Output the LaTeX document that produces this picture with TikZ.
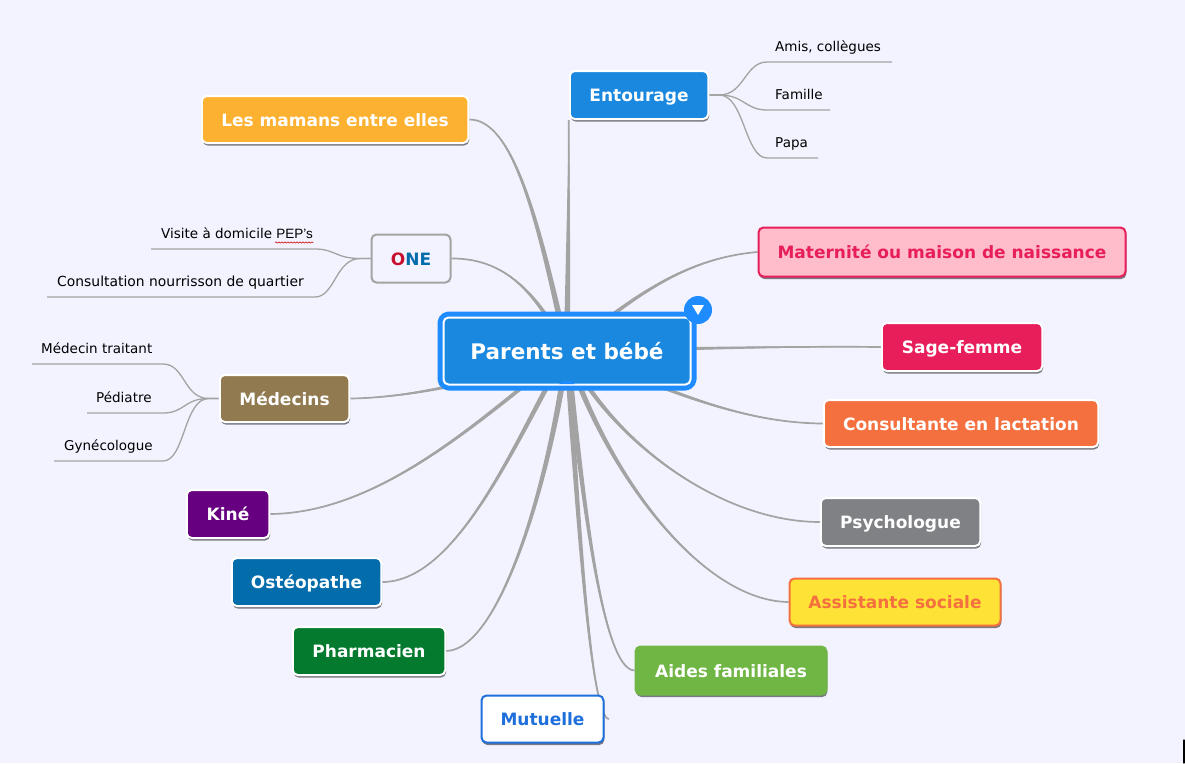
\documentclass[tikz,border=0pt]{standalone}
\usepackage{fontspec}
\setmainfont{DejaVu Sans}
\newfontfamily\pepfont{Liberation Sans}
\usetikzlibrary{calc,shadows,backgrounds,decorations.pathmorphing}
\definecolor{MapPage}{HTML}{F3F3FF}
\definecolor{MapLink}{HTML}{A3A3A3}
\definecolor{MapRing}{HTML}{1E8CFF}
\definecolor{MapBlue}{HTML}{1B88DF}
\definecolor{MapAmber}{HTML}{FDB130}
\definecolor{MapPink}{HTML}{FFBCCB}
\definecolor{MapRose}{HTML}{E81E5A}
\definecolor{MapCoral}{HTML}{F5703F}
\definecolor{MapSlate}{HTML}{808184}
\definecolor{MapYellow}{HTML}{FFE236}
\definecolor{MapLeaf}{HTML}{70B645}
\definecolor{MapRoyal}{HTML}{1E6FDB}
\definecolor{MapForest}{HTML}{047A2E}
\definecolor{MapOcean}{HTML}{036CAA}
\definecolor{MapPurple}{HTML}{660080}
\definecolor{MapBrown}{HTML}{917A50}
\definecolor{MapCrimson}{HTML}{C8102E}
\tikzset{
  flatbox/.style={draw=white,line width=2pt,rounded corners=5pt,text=white,
    font=\fontsize{17}{20}\selectfont\bfseries,text height=17pt,text depth=3.6pt,inner sep=0pt},
  topicbox/.style={flatbox,drop shadow={shadow xshift=0.8pt,shadow yshift=-2.5pt,fill=black,opacity=0.5}},
  twiglabel/.style={font=\fontsize{13.5}{16}\selectfont,text=black,inner sep=0pt,anchor=base west},
  twigline/.style={draw=MapLink,line width=1.3pt},
  linkline/.style={draw=MapLink,line width=1.7pt},
}
% link from the hub, thick at the hub and thin at the far end
\newcommand{\hublink}[4][3.2,0]{
  \draw[linkline] (hub.center) .. controls (#3) and (#4) .. (#2);
  \fill[MapLink] ($(hub.center)+(#1)$) .. controls ($(#3)+0.66*(#1)$) and ($(#4)+0.33*(#1)$) .. (#2)
    .. controls ($(#4)-0.33*(#1)$) and ($(#3)-0.66*(#1)$) .. ($(hub.center)-(#1)$) -- cycle;
}
\begin{document}
\begin{tikzpicture}[x=1pt,y=-1pt,line cap=round,line join=round]
  \useasboundingbox (0,0) rectangle (1185,763);
  \node[topicbox,preaction={draw=MapRing,line width=12pt},fill=MapBlue,minimum width=247pt,minimum height=67pt,
    font=\fontsize{21.5}{26}\selectfont\bfseries,text height=20pt,text depth=4pt] (hub) at (567,351) {Parents et bébé};
  \node[topicbox,fill=MapAmber,minimum width=266.5pt,minimum height=47pt] (mamans) at (335,119.5) {Les mamans entre elles};
  \node[topicbox,fill=MapBlue,minimum width=138.5pt,minimum height=48pt] (entourage) at (639,95) {Entourage};
  \node[topicbox,draw=MapRose,fill=MapPink,text=MapRose,minimum width=367pt,minimum height=49pt] (maternite) at (942,252) {Maternité ou maison de naissance};
  \node[topicbox,fill=MapRose,minimum width=160.5pt,minimum height=48pt] (sagefemme) at (962,347) {Sage-femme};
  \node[topicbox,fill=MapCoral,minimum width=274.5pt,minimum height=47pt] (lactation) at (961,423.5) {Consultante en lactation};
  \node[topicbox,fill=MapSlate,minimum width=159.5pt,minimum height=48pt] (psy) at (900.5,522) {Psychologue};
  \node[topicbox,draw=MapCoral,fill=MapYellow,text=MapCoral,minimum width=211pt,minimum height=47pt] (assistante) at (895,602) {Assistante sociale};
  \node[topicbox,draw=MapLeaf,fill=MapLeaf,minimum width=191pt,minimum height=48pt] (aides) at (731,670.5) {Aides familiales};
  \node[topicbox,draw=MapRoyal,fill=white,text=MapRoyal,minimum width=122pt,minimum height=47pt] (mutuelle) at (542.5,719) {Mutuelle};
  \node[topicbox,fill=MapForest,minimum width=152.5pt,minimum height=48pt] (pharmacien) at (369,651) {Pharmacien};
  \node[topicbox,fill=MapOcean,minimum width=149.5pt,minimum height=48pt] (osteo) at (306.5,582) {Ostéopathe};
  \node[topicbox,fill=MapPurple,minimum width=82.5pt,minimum height=48pt] (kine) at (228,514) {Kiné};
  \node[topicbox,fill=MapBrown,minimum width=129.5pt,minimum height=47pt] (medecins) at (284.5,398.5) {Médecins};
  \node[flatbox,draw=MapLink,fill=MapPage,minimum width=79pt,minimum height=48pt] (one) at (411,258.5) {{\color{MapCrimson}O}{\color{MapOcean}NE}};
  \fill[MapRing] (559,384) -- (563,381) -- (571,381) -- (575,384) -- cycle;
  \node[circle,fill=MapRing,minimum size=28pt,inner sep=0pt] (toggle) at (698,310) {};
  \fill[white] (692,305) -- (704,305) -- (698,315) -- cycle;
  \coordinate (mutuelleEnd) at (609,719);
  \begin{scope}[on background layer]
    \fill[MapPage] (0,0) rectangle (1185,763);
    \hublink{mamans.east}{540,230}{515,119}
    \hublink{entourage.south west}{568,250}{569,180}
    \hublink[0,3]{maternite.west}{640,290}{690,258}
    \hublink[0,2.5]{sagefemme.west}{680,349}{780,346}
    \hublink[0,3]{lactation.west}{650,380}{730,423}
    \hublink{psy.west}{610,440}{720,522}
    \hublink{assistante.west}{605,470}{700,601}
    \hublink{aides.west}{580,470}{600,670}
    \hublink{mutuelleEnd}{577,500}{590,719}
    \hublink{pharmacien.east}{550,480}{500,650}
    \hublink{osteo.east}{520,430}{460,582}
    \hublink[0,3]{kine.east}{480,420}{380,513}
    \hublink[0,3]{medecins.east}{480,385}{400,398}
    \hublink{one.east}{540,300}{510,258}
    \foreach \twig/\yy/\xend in {amis/62/892,famille/110/830,papa/158/818}{
      \coordinate (\twig End) at (\xend,\yy);
      \draw[twigline] (entourage.east) -- ++(10,0) .. controls +(25,0) and (745,\yy) .. (767,\yy) -- (\twig End);
    }
    \foreach \twig/\yy/\xend in {visite/249/151,quartier/297/47}{
      \coordinate (\twig End) at (\xend,\yy);
      \draw[twigline] (one.west) -- ++(-10,0) .. controls +(-25,0) and (335,\yy) .. (315,\yy) -- (\twig End);
    }
    \foreach \twig/\yy/\xend in {traitant/364/32,pediatre/413/87,gyneco/461/54}{
      \coordinate (\twig End) at (\xend,\yy);
      \draw[twigline] (medecins.west) -- ++(-10,0) .. controls +(-25,0) and (185,\yy) .. (163,\yy) -- (\twig End);
    }
  \end{scope}
  \foreach \twig/\label/\yy in {amis/{Amis, collègues}/51,famille/Famille/99,papa/Papa/147}{
    \node[twiglabel] (\twig) at (775,\yy) {\label};
  }
  \node[twiglabel] (visite) at (161,238) {Visite à domicile {\pepfont PEP’s}};
  \node[twiglabel,font=\fontsize{13.9}{16}\selectfont] (quartier) at (57,286) {Consultation nourrisson de quartier};
  \node[twiglabel] (traitant) at (41,353) {Médecin traitant};
  \node[twiglabel] (pediatre) at (96,402) {Pédiatre};
  \node[twiglabel] (gyneco) at (64,450) {Gynécologue};
  \draw[red!80!black,line width=0.6pt,decorate,decoration={snake,amplitude=0.7pt,segment length=3pt}] (275,242.5) -- (313,242.5);
  \draw[black,line width=1.2pt] (1184,740) -- (1184,763);
\end{tikzpicture}
\end{document}
